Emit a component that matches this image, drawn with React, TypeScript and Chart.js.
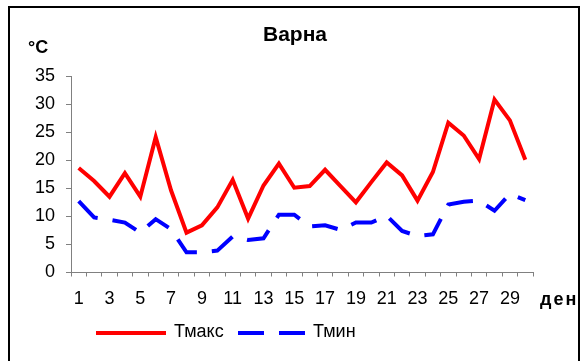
import React, { useEffect, useRef } from "react";
import { Chart, registerables } from "chart.js";

Chart.register(...registerables);

const days = Array.from({ length: 30 }, (_, i) => String(i + 1));
const tmax = [18.6, 16.3, 13.5, 17.7, 13.5, 24.1, 14.6, 7.1, 8.4, 11.6, 16.5, 9.6, 15.5, 19.4, 15.1, 15.4, 18.3, 15.4, 12.5, 16.1, 19.6, 17.3, 12.8, 17.9, 26.7, 24.4, 20.2, 30.8, 27.1, 20.1];
const tmin = [12.7, 9.8, 9.4, 8.9, 7.1, 9.5, 7.7, 3.6, 3.6, 3.9, 6.4, 5.8, 6.1, 10.3, 10.3, 8.2, 8.4, 7.6, 8.9, 8.9, 10.1, 7.4, 6.5, 6.8, 12.1, 12.6, 12.8, 11.0, 14.0, 12.9];
const seriesNames = ["Тмакс", "Тмин"];
const title = "Варна";
const yUnit = "°C";
const xUnit = "ден";

const FONT = "'Liberation Sans', Arial, sans-serif";

const extras = {
  id: "extras",
  afterDraw(chart: any) {
    const ctx = chart.ctx as CanvasRenderingContext2D;
    ctx.save();
    // outer border
    ctx.strokeStyle = "#000";
    ctx.lineWidth = 2;
    ctx.strokeRect(9, 7, 570, 400);
    ctx.fillStyle = "#000";
    ctx.textBaseline = "middle";
    // title
    ctx.textAlign = "center";
    ctx.font = `bold 21px ${FONT}`;
    ctx.fillText(title, 295, 35);
    // unit labels
    ctx.textAlign = "left";
    ctx.font = `bold 18px ${FONT}`;
    ctx.fillText(yUnit, 28, 48);
    (ctx as any).letterSpacing = "2px";
    ctx.fillText(xUnit, 540, 300);
    (ctx as any).letterSpacing = "0px";
    // legend
    const items = [
      { x: 96, w: 70 },
      { x: 238, w: 67 },
    ];
    chart.data.datasets.forEach((ds: any, i: number) => {
      const it = items[i];
      const y = 333;
      ctx.beginPath();
      ctx.strokeStyle = ds.borderColor;
      ctx.lineWidth = ds.borderWidth;
      ctx.setLineDash(ds.borderDash || []);
      ctx.moveTo(it.x, y);
      ctx.lineTo(it.x + it.w, y);
      ctx.stroke();
      ctx.setLineDash([]);
      ctx.font = `18px ${FONT}`;
      ctx.fillStyle = "#000";
      ctx.fillText(ds.label, it.x + it.w + 8, 332);
    });
    ctx.restore();
  },
};

export default function App() {
  const ref = useRef<HTMLCanvasElement>(null);
  useEffect(() => {
    if (!ref.current) return;
    const chart = new Chart(ref.current, {
      type: "line",
      data: {
        labels: days,
        datasets: [
          {
            label: seriesNames[0],
            data: tmax,
            borderColor: "#FF0000",
            backgroundColor: "#FF0000",
            borderWidth: 4,
            pointRadius: 0,
            tension: 0,
          },
          {
            label: seriesNames[1],
            data: tmin,
            borderColor: "#0000FF",
            backgroundColor: "#0000FF",
            borderWidth: 4,
            borderDash: [26, 15],
            pointRadius: 0,
            tension: 0,
          },
        ],
      },
      options: {
        animation: false,
        responsive: false,
        devicePixelRatio: 1,
        layout: { padding: { left: 25, right: 50, top: 76, bottom: 0 } },
        plugins: {
          legend: { display: false },
          tooltip: { enabled: false },
          title: { display: false },
        },
        scales: {
          x: {
            offset: true,
            grid: {
              offset: true,
              display: true,
              drawOnChartArea: false,
              tickLength: 4,
              color: "#808080",
            },
            border: { display: true, color: "#808080", width: 1 },
            ticks: {
              autoSkip: false,
              maxRotation: 0,
              color: "#000",
              padding: 12,
              font: { family: FONT, size: 18 },
              callback: (_v: any, i: number) => (i % 2 === 0 ? days[i] : ""),
            },
            afterFit: (s: any) => {
              s.height = 88.5;
            },
          },
          y: {
            min: 0,
            max: 35,
            grid: {
              display: true,
              drawOnChartArea: false,
              tickLength: 5,
              color: "#808080",
            },
            border: { display: true, color: "#808080", width: 1 },
            ticks: {
              stepSize: 5,
              color: "#000",
              padding: 11,
              font: { family: FONT, size: 18 },
            },
            afterFit: (s: any) => {
              s.width = 46;
            },
          },
        },
      },
      plugins: [extras],
    });
    return () => chart.destroy();
  }, []);
  return (
    <div style={{ position: "fixed", left: 0, top: 0, width: 583, height: 361, background: "#fff" }}>
      <canvas ref={ref} width={583} height={361} />
    </div>
  );
}
